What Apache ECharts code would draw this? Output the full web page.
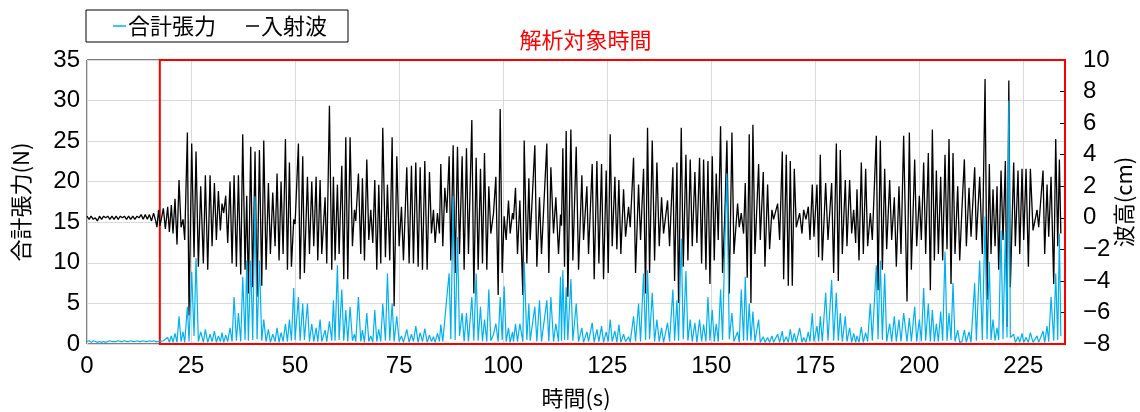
<!DOCTYPE html>
<html lang="ja">
<head>
<meta charset="utf-8">
<title>合計張力と入射波</title>
<script src="https://cdn.jsdelivr.net/npm/echarts@6/dist/echarts.min.js"></script>
<style>
  html, body { margin: 0; padding: 0; background: #fff; }
  #chart { width: 1140px; height: 412px; }
</style>
</head>
<body>
<div id="chart"></div>
<script>
// 時刻(s) — 波の山・谷ごとの読み取り点
const timeS = [
  0, 0.5, 1, 1.5, 2, 2.5, 3, 3.5, 4, 4.5, 5, 5.5, 6, 6.5, 7, 7.5, 8, 8.5,
  9, 9.5, 10, 10.5, 11, 11.5, 12, 12.5, 13, 13.5, 14, 14.5, 15, 15.5, 16, 16.5, 16.8, 17.2,
  17.55, 18.35, 18.83, 19.39, 19.79, 20.27, 20.67, 21.15, 21.63, 22.11,
  22.60, 23.08, 23.48, 24.12, 24.52, 25.16, 25.72, 26.20, 26.76, 27.32,
  27.96, 28.44, 29.01, 29.57, 30.05, 30.61, 31.09, 31.57, 32.05, 32.45,
  32.85, 33.33, 33.81, 34.37, 34.86, 35.34, 35.90, 36.38, 36.94, 37.42,
  37.98, 38.38, 38.78, 39.34, 39.82, 40.38, 40.86, 41.43, 41.99, 42.47,
  43.03, 43.59, 44.07, 44.63, 45.19, 45.67, 46.15, 46.63, 47.12, 47.68,
  48.16, 48.64, 49.12, 49.68, 50.00, 50.80, 51.20, 51.84, 52.24, 52.97,
  53.45, 54.01, 54.49, 55.05, 55.45, 56.01, 56.41, 57.21, 57.61, 58.25,
  58.81, 59.21, 59.61, 60.17, 60.58, 61.22, 61.70, 62.18, 62.66, 63.22,
  63.78, 64.26, 64.58, 65.22, 65.78, 66.18, 66.67, 67.23, 67.71, 68.19,
  68.67, 69.15, 69.63, 70.11, 70.59, 71.07, 71.71, 72.19, 72.75, 73.32,
  73.80, 74.44, 75.00, 75.56, 76.04, 76.84, 77.40, 77.96, 78.44, 79.00,
  79.57, 80.05, 80.61, 81.17, 81.73, 82.29, 82.77, 83.25, 83.65, 84.21,
  84.69, 85.01, 85.49, 85.98, 86.46, 87.02, 87.42, 87.98, 88.46, 89.02,
  89.50, 90.14, 90.62, 91.18, 91.66, 92.47, 92.95, 93.51, 93.99, 94.55,
  95.03, 95.51, 96.07, 96.55, 97.03, 97.68, 98.24, 98.80, 99.28, 99.76,
  100.24, 100.72, 101.28, 101.68, 102.24, 102.48, 102.96, 103.44, 104.01, 104.73,
  105.05, 105.69, 106.17, 106.49, 107.61, 108.09, 108.73, 109.21, 110.49, 110.97,
  111.46, 112.10, 112.66, 113.30, 113.78, 114.02, 114.34, 114.74, 115.14, 115.54,
  116.27, 116.75, 117.55, 118.11, 118.91, 119.31, 120.11, 120.51, 121.39, 121.87,
  122.52, 123.00, 123.64, 124.12, 124.76, 125.24, 125.72, 126.20, 126.84, 127.32,
  127.80, 128.28, 128.93, 129.41, 130.13, 130.53, 131.33, 131.81, 132.53, 133.01,
  133.73, 134.21, 134.69, 135.18, 135.82, 136.38, 136.94, 137.50, 138.06, 138.54,
  139.50, 139.98, 140.78, 141.19, 141.75, 142.15, 142.79, 143.27, 143.91, 144.39,
  144.95, 145.43, 146.07, 146.55, 147.19, 147.68, 148.16, 148.72, 149.20, 149.68,
  150.24, 150.72, 151.20, 151.68, 152.24, 152.72, 153.28, 153.76, 154.33, 154.97,
  155.45, 156.33, 156.73, 157.21, 157.77, 158.17, 158.65, 159.13, 159.53, 160.01,
  160.50, 161.38, 161.78, 162.50, 162.90, 163.54, 164.02, 164.58, 164.98, 165.95,
  166.43, 167.07, 167.39, 168.03, 168.51, 168.99, 169.47, 169.95, 170.43, 171.24,
  171.80, 172.20, 172.76, 173.32, 173.72, 174.28, 174.68, 175.40, 175.80, 176.20,
  176.68, 177.49, 178.05, 178.93, 179.41, 180.05, 180.53, 181.01, 181.49, 182.21,
  182.61, 183.25, 183.74, 184.22, 184.70, 185.02, 185.50, 186.06, 186.54, 187.10,
  187.58, 188.22, 188.70, 189.66, 190.07, 190.63, 191.11, 191.67, 192.15, 192.87,
  193.35, 193.99, 194.47, 195.11, 195.59, 196.23, 197.04, 197.60, 198.08, 198.88,
  199.36, 200.00, 200.48, 201.04, 201.52, 202.16, 202.65, 203.13, 203.61, 204.09,
  204.57, 205.13, 205.61, 206.17, 206.65, 207.13, 207.61, 208.09, 208.57, 209.22,
  209.70, 210.26, 210.82, 211.30, 211.94, 212.42, 213.30, 213.70, 214.50, 215.14,
  215.79, 216.27, 216.82, 217.22, 217.70, 218.19, 218.67, 219.07, 219.63, 220.11,
  220.67, 221.07, 221.50, 221.87, 222.67, 223.07, 223.71, 224.12, 224.68, 225.08,
  225.64, 226.20, 226.68, 227.32, 228.28, 228.68, 229.72, 230.12, 230.69, 231.09,
  231.65, 232.29, 232.77, 233.25, 233.65, 234.00
];

// 入射波 波高(cm)
const waveCm = [
  0.1, -0.1, 0.1, -0.1, 0, -0.2, 0.1, -0.1, 0.1, 0, 0.1, -0.1, 0.1, -0.1, 0.1, -0.1, 0.1, 0,
  0.1, -0.1, 0.1, -0.1, 0.1, -0.1, 0.1, 0, 0.2, -0.1, 0.2, -0.1, 0.2, -0.2, 0.3, -0.2, -0.6, 0.5,
  -0.5, 0.6, -0.7, 0.7, -0.9, 0.8, -1.0, 1.2, -1.7, 2.4,
  -0.6, -0.1, -1.4, 5.4, -6.2, 4.7, -2.5, 4.2, -3.1, 2.0,
  -2.9, 2.7, -3.3, 2.7, -1.8, 2.2, -1.4, 1.7, -0.8, 0.9,
  0.3, 1.4, -1.6, 2.3, -2.9, 2.7, -3.1, 2.7, -3.6, 5.3,
  -3.3, 1.4, -4.8, 4.5, -4.4, 4.2, -5.0, 4.3, -4.3, 4.9,
  -3.3, 2.2, -2.3, 1.6, -1.8, 2.8, -2.7, 2.3, -2.3, 5.0,
  -3.3, 3.5, -3.1, -0.1, -0.4, 4.7, -3.9, 3.9, -3.5, 2.6,
  -2.3, 2.3, -1.8, 2.6, -2.7, 2.4, -2.3, 1.3, -2.9, 7.1,
  -3.3, 2.6, -2.7, 2.1, -2.3, 3.3, -3.9, 5.1, -3.9, 5.1,
  -1.8, 0.5, -0.2, 2.8, -2.3, 2.5, -2.7, 3.7, -1.4, 0.5,
  -1.6, 2.4, -3.3, 2.1, -2.9, 5.7, -2.5, 2.1, -2.7, 5.1,
  -5.6, 3.9, -1.8, 0.7, -2.7, 3.2, -2.9, 3.3, -2.9, 3.5,
  -3.1, 3.2, -3.3, 3.6, -3.3, 2.9, -1.0, 0.5, -1.6, 0.3,
  -1.0, 3.4, -1.8, 1.9, 0.3, 3.9, -2.7, 4.6, -3.5, 4.5,
  -2.3, 3.9, -3.3, 4.4, -2.3, 6.2, -4.8, 3.8, -3.3, 3.1,
  -2.9, 4.1, -3.3, 2.0, -1.0, 0.3, 2.6, -4.9, 6.9, -3.5,
  0.1, -1.4, 1.1, -1.0, 0.3, -0.1, 1.9, -2.3, 1.1, -4.9,
  4.9, -2.9, 2.5, -1.4, 4.6, -3.1, 1.3, -2.3, 4.7, -3.5,
  3.2, -1.0, 1.3, -2.3, 0.2, -0.5, 4.4, -3.1, 5.5, -5.0,
  5.6, -2.7, 4.5, -3.3, 2.7, -1.4, 2.0, -2.3, 3.4, -3.9,
  3.6, -2.9, 3.4, -3.9, 3.0, -3.5, 5.3, -1.8, 2.6, -2.0,
  2.4, -2.3, 1.8, -1.2, 0.7, -0.6, 3.8, -3.5, 2.1, -1.4,
  3.1, -4.8, 5.7, -3.5, 4.9, -2.7, 3.5, -1.8, 1.3, -1.0,
  1.1, -1.8, 3.2, -4.0, 3.5, -5.4, 5.7, -3.1, 4.0, -2.7,
  3.7, -1.8, 2.9, -1.6, 3.8, -2.9, 3.7, -3.3, 3.6, -4.2,
  3.9, -2.7, 2.8, -1.4, 5.8, -3.5, 0.3, 4.9, -4.8, 5.4,
  -2.3, 0.9, -0.6, 0.3, -1.0, 2.2, -3.8, 5.3, -5.4, 5.9,
  -2.3, 3.4, -1.4, 2.9, -3.1, 2.1, -2.0, 0.5, -0.1, 0.9,
  -1.4, 4.2, -3.9, 4.0, -4.3, 3.6, -4.3, 3.1, -0.6, 0.3,
  -1.0, 0.5, -0.1, 0.7, -1.4, 2.1, -1.2, 2.1, -2.5, 4.0,
  -2.7, 2.2, -1.4, 2.2, -3.5, 4.7, -4.0, 4.3, -2.3, 2.4,
  -1.8, 2.4, -1.0, 0.5, -1.6, 1.8, -2.7, 3.5, -2.3, 3.1,
  -1.8, 0.3, -1.4, 5.2, -4.6, 4.9, -3.3, 3.1, -2.0, 2.4,
  -1.4, 1.3, -3.1, 2.0, -2.3, 5.2, -5.3, 5.4, -3.3, 3.7,
  -1.8, 1.4, -1.4, 3.5, -2.3, 4.1, -4.6, 5.6, -2.7, 3.0,
  -2.3, 2.6, -2.7, 4.0, -2.0, 5.0, -4.2, 4.1, -2.3, 2.0,
  -2.7, 0.7, 3.7, -1.8, 1.9, -1.2, 3.2, -1.4, 2.6, -2.3,
  8.8, -5.2, 3.4, -2.3, 1.8, -1.8, 2.0, -3.3, 3.0, -1.4,
  3.6, -6.9, 8.7, -4.4, 3.5, -1.8, 3.0, -2.3, 3.1, -1.4,
  3.1, -3.1, 3.1, -0.8, 0.5, -0.6, 3.0, -2.3, 2.1, -1.2,
  2.6, -4.2, 5.0, -1.8, 3.7, -1.0
];

// 合計張力(N)
const tensionN = [
  0.3, 0.4, 0.2, 0.4, 0.3, 0.2, 0.3, 0.2, 0.3, 0.2, 0.3, 0.4, 0.3, 0.3, 0.3, 0.4, 0.3, 0.3,
  0.4, 0.3, 0.3, 0.4, 0.3, 0.3, 0.4, 0.3, 0.3, 0.4, 0.3, 0.3, 0.4, 0.3, 0.4, 0.3, 0.3, 0.3,
  0.2, 0.4, 0.2, 0.8, 0.2, 1.0, 0.2, 1.3, 0.2, 3.4,
  0.3, 1.5, 0.2, 4.6, 0.3, 8.9, 1.0, 10.6, 0.3, 1.5,
  0.2, 1.8, 0.2, 1.2, 0.3, 1.6, 0.2, 1.0, 0.3, 1.4,
  0.2, 1.1, 0.3, 2.0, 0.3, 5.8, 0.4, 3.8, 0.3, 8.3,
  0.5, 10.3, 0.4, 10.3, 0.5, 18.2, 0.6, 10.3, 0.4, 3.0,
  0.3, 1.8, 0.2, 1.2, 0.3, 2.0, 0.2, 1.4, 0.3, 2.5,
  0.3, 3.0, 0.4, 6.9, 0.5, 5.8, 0.4, 5.0, 0.5, 5.0,
  0.3, 2.5, 0.3, 2.0, 0.3, 3.0, 0.3, 1.7, 0.3, 2.8,
  0.4, 5.4, 0.4, 9.7, 0.5, 6.7, 0.4, 4.2, 0.3, 4.6,
  0.4, 1.2, 0.3, 5.8, 0.3, 1.7, 0.2, 3.8, 0.3, 1.0,
  0.2, 4.2, 0.3, 1.8, 0.3, 5.0, 0.4, 8.7, 0.4, 5.0,
  0.3, 3.4, 0.3, 1.0, 0.2, 1.8, 0.2, 1.2, 0.3, 2.2,
  0.2, 1.4, 0.3, 1.9, 0.2, 1.1, 0.3, 0.9, 0.2, 1.3,
  0.3, 2.4, 0.3, 3.0, 5.8, 8.7, 0.6, 18.2, 0.5, 13.2,
  1.0, 3.8, 0.3, 3.8, 0.3, 5.8, 0.4, 8.7, 0.4, 4.6,
  0.3, 3.0, 0.3, 6.7, 0.4, 1.2, 2.5, 0.3, 5.8, 0.5,
  7.1, 0.3, 2.0, 0.2, 1.5, 0.3, 2.5, 0.3, 2.5, 0.3,
  10.1, 0.5, 5.0, 0.4, 4.6, 0.3, 5.4, 0.3, 5.4, 0.3,
  5.8, 0.3, 2.5, 0.3, 8.3, 0.4, 9.1, 0.5, 7.0, 0.5,
  8.0, 0.4, 5.0, 0.3, 2.0, 0.2, 1.5, 0.3, 2.6, 0.2,
  1.8, 0.3, 2.2, 0.2, 1.5, 0.3, 3.0, 0.3, 1.6, 0.2,
  2.4, 0.2, 1.2, 0.3, 0.9, 0.2, 3.4, 0.3, 5.0, 0.3,
  8.7, 0.5, 9.1, 0.6, 6.3, 0.3, 3.0, 0.3, 2.0, 0.2,
  2.6, 0.3, 6.7, 0.4, 5.4, 0.4, 13.0, 0.6, 9.0, 0.4,
  3.0, 0.3, 2.6, 0.2, 3.0, 0.3, 2.4, 0.3, 5.8, 0.4,
  4.2, 0.3, 2.5, 0.3, 6.7, 0.5, 12.8, 21.0, 0.6, 3.8,
  0.3, 1.5, 0.2, 6.7, 0.4, 8.3, 0.4, 5.0, 0.4, 4.0,
  0.3, 3.0, 0.2, 0.9, 0.2, 0.8, 0.2, 1.0, 0.2, 1.2,
  0.2, 1.6, 0.2, 0.9, 0.2, 1.8, 0.2, 1.3, 0.2, 2.0,
  0.2, 0.8, 0.2, 1.5, 0.3, 3.8, 0.3, 2.2, 0.3, 3.4,
  0.3, 6.3, 0.4, 7.9, 0.4, 6.3, 0.4, 3.8, 0.3, 3.4,
  0.3, 2.0, 0.2, 1.3, 0.2, 1.0, 0.2, 2.1, 0.2, 1.4,
  0.3, 5.0, 0.4, 9.7, 0.6, 10.3, 0.5, 8.7, 0.3, 2.5,
  0.3, 3.4, 0.3, 3.0, 0.3, 3.8, 0.3, 3.2, 0.3, 4.6,
  0.3, 3.0, 0.3, 6.9, 0.4, 5.0, 0.3, 4.2, 0.3, 2.5,
  0.3, 4.0, 0.4, 11.4, 0.4, 3.8, 0.5, 7.5, 0.3, 1.7,
  0.2, 0.3, 1.7, 0.2, 1.5, 0.2, 7.5, 0.4, 10.3, 0.5,
  15.7, 0.6, 10.1, 0.5, 3.0, 0.4, 2.0, 0.5, 14.0, 0.6,
  13.8, 0.8, 30.0, 0.8, 1.2, 0.2, 0.9, 0.2, 1.3, 0.2,
  0.8, 0.2, 1.4, 0.2, 1.0, 0.2, 1.6, 0.2, 2.2, 0.3,
  5.8, 0.4, 8.7, 0.5, 13.6, 1.0
];

const seriesNames = ['合計張力', '入射波'];
const analysisStart = 17.5;
const analysisEnd = 235;
const analysisLabel = '解析対象時間';

const jp = "'Noto Sans CJK JP', sans-serif";
const num = "'Liberation Sans', sans-serif";

const n = Math.min(timeS.length, waveCm.length, tensionN.length);
const waveData = [];
const tensionData = [];
for (let i = 0; i < n; i++) {
  waveData.push([timeS[i], waveCm[i]]);
  tensionData.push([timeS[i], tensionN[i]]);
}

const chart = echarts.init(document.getElementById('chart'));

chart.setOption({
  animation: false,
  textStyle: { fontFamily: jp },
  legend: {
    left: 86,
    top: 10,
    padding: [5, 21, 5, 27],
    borderColor: '#000',
    borderWidth: 1,
    itemGap: 30,
    itemWidth: 13,
    itemHeight: 1.5,
    icon: 'rect',
    textStyle: { fontSize: 22, color: '#000', fontFamily: jp, padding: [0, 0, 0, -3] },
    data: seriesNames
  },
  grid: {
    left: 87,
    right: 75,
    top: 60,
    bottom: 68,
    outerBoundsMode: 'none',
    show: true,
    borderColor: '#000',
    borderWidth: 1
  },
  xAxis: {
    type: 'value',
    min: 0,
    max: 235,
    interval: 25,
    name: '時間(s)',
    nameLocation: 'middle',
    nameGap: 43,
    nameTextStyle: { fontSize: 22, color: '#000', fontFamily: jp },
    axisLine: { show: false },
    axisTick: { show: false },
    axisLabel: { fontSize: 24, color: '#000', fontFamily: num, margin: 10, showMaxLabel: false },
    splitLine: { show: true, lineStyle: { color: '#d9d9d9', width: 1 } }
  },
  yAxis: [
    {
      type: 'value',
      min: 0,
      max: 35,
      interval: 5,
      name: '合計張力(N)',
      nameLocation: 'middle',
      nameGap: 55,
      nameRotate: 90,
      nameTextStyle: { fontSize: 22, color: '#000', fontFamily: jp },
      axisLine: { show: false },
      axisTick: { show: false },
      axisLabel: { fontSize: 24, color: '#000', fontFamily: num, margin: 7 },
      splitLine: { show: true, lineStyle: { color: '#d9d9d9', width: 1 } }
    },
    {
      type: 'value',
      position: 'right',
      min: -8,
      max: 10,
      interval: 2,
      name: '波高(cm)',
      nameLocation: 'middle',
      nameGap: 48,
      nameRotate: 90,
      nameMoveOverlap: false,
      nameTextStyle: { fontSize: 22, color: '#000', fontFamily: jp },
      axisLine: { show: false },
      axisTick: { show: true, inside: true, length: 5, lineStyle: { color: '#000' } },
      axisLabel: {
        fontSize: 24,
        color: '#000',
        fontFamily: num,
        margin: 18,
        formatter: v => String(v).replace('-', '\u2212')
      },
      splitLine: { show: false }
    }
  ],
  series: [
    {
      name: '入射波',
      type: 'line',
      yAxisIndex: 1,
      data: waveData,
      symbol: 'none',
      color: '#000',
      lineStyle: { color: '#000', width: 1.3 },
      z: 2,
      markArea: {
        silent: true,
        itemStyle: { color: 'rgba(0,0,0,0)', borderColor: '#ff0000', borderWidth: 2 },
        label: {
          show: true,
          position: 'top',
          distance: 8,
          offset: [-27, 0],
          color: '#ff0000',
          fontSize: 22,
          fontFamily: jp
        },
        data: [[{ name: analysisLabel, xAxis: analysisStart }, { xAxis: analysisEnd }]]
      }
    },
    {
      name: '合計張力',
      type: 'line',
      yAxisIndex: 0,
      data: tensionData,
      symbol: 'none',
      color: '#00b0f0',
      lineStyle: { color: '#00b0f0', width: 1.2 },
      z: 3
    }
  ]
});
</script>
</body>
</html>
